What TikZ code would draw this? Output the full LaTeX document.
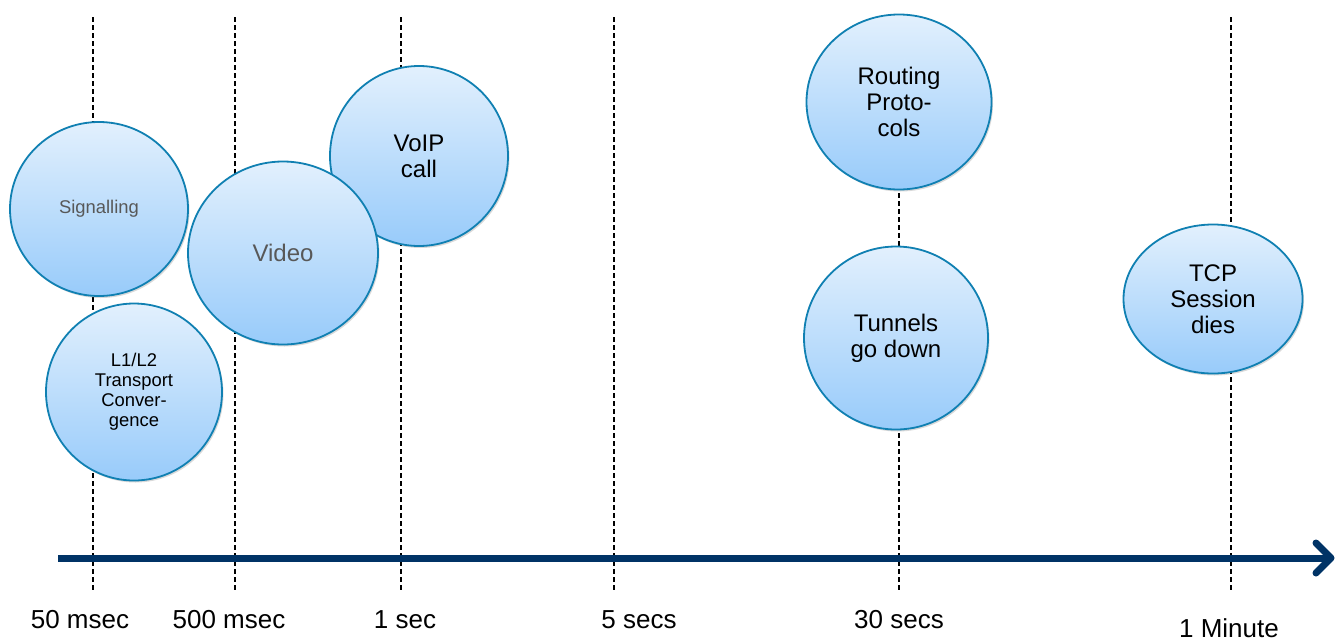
\documentclass[tikz,border=0pt]{standalone}
\usepackage{fontspec}
\setmainfont{Liberation Sans}
\usetikzlibrary{shapes.geometric,shadows}
\definecolor{bubbleedge}{RGB}{16,128,178}
\definecolor{bubbletop}{RGB}{226,240,253}
\definecolor{bubblebot}{RGB}{152,203,250}
\definecolor{axisblue}{RGB}{0,51,102}
\definecolor{graytext}{RGB}{88,88,88}
\tikzset{
  bubble/.style={ellipse, draw=bubbleedge, line width=1.8pt, top color=bubbletop, bottom color=bubblebot,
     inner sep=0pt, align=center, font=\fontsize{24}{26}\selectfont,
     drop shadow={shadow xshift=1.5pt, shadow yshift=-2pt, opacity=0.25, fill=black!60}},
  small/.style={font=\fontsize{18.4}{20}\selectfont},
  tick/.style={black, line width=1.6pt, dash pattern=on 5pt off 3pt},
  axislabel/.style={font=\fontsize{26}{28}\selectfont, anchor=center, inner sep=1pt}
}
\begin{document}
\begin{tikzpicture}[x=1pt,y=-1pt]
\useasboundingbox (0,0) rectangle (1335,643);
% tick coordinates
\foreach \n/\x in {a/93,b/235,c/401,d/614,e/899,f/1231}{
  \coordinate (\n top) at (\x,17);
  \coordinate (\n bot) at (\x,590);
}
\foreach \n in {a,b,c,d,e,f}{ \draw[tick] (\n top) -- (\n bot); }
% axis
\coordinate (axstart) at (58,558);
\coordinate (axend) at (1331,558);
\coordinate (chup) at (1316,543);
\coordinate (chdn) at (1316,573);
\draw[axisblue, line width=7pt] (axstart) -- (axend);
\draw[axisblue, line width=7pt, line cap=round, line join=round] (chup) -- (axend) -- (chdn);
% bubbles
\node[bubble, small, minimum width=178pt, minimum height=174pt, text=graytext] (sig) at (99,209) {Signalling};
\node[bubble, small, minimum width=176pt, minimum height=177pt] (l1l2) at (134,392) {L1/L2\\Transport\\Conver-\\gence};
\node[bubble, minimum width=178pt, minimum height=180pt] (voip) at (419,156) {VoIP\\call};
\node[bubble, minimum width=190pt, minimum height=183pt, text=graytext] (video) at (283,253) {Video};
\node[bubble, minimum width=185pt, minimum height=175pt] (routing) at (899,102) {Routing\\Proto-\\cols};
\node[bubble, minimum width=184pt, minimum height=183pt] (tunnels) at (896,338) {Tunnels\\go down};
\node[bubble, minimum width=179pt, minimum height=149pt] (tcp) at (1213,299) {TCP\\Session\\dies};
% labels
\node[axislabel] (l50) at (80,620) {50 msec};
\node[axislabel] (l500) at (229,620) {500 msec};
\node[axislabel] (l1s) at (405,620) {1 sec};
\node[axislabel] (l5s) at (639,620) {5 secs};
\node[axislabel] (l30s) at (899,620) {30 secs};
\node[axislabel] (l1m) at (1229,628) {1 Minute};
\end{tikzpicture}
\end{document}
